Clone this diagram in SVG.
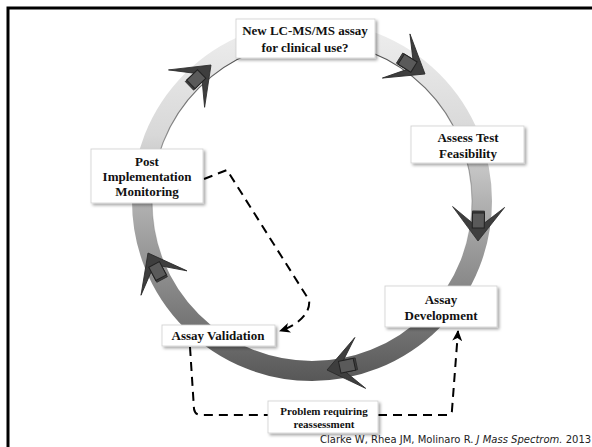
<svg xmlns="http://www.w3.org/2000/svg" xmlns:xlink="http://www.w3.org/1999/xlink" width="592" height="447" viewBox="0 0 592 447">
<style>
.box{fill:#fff;stroke:#cfcfcf;stroke-width:0.8;filter:url(#sh)}
.lbl{font-family:"Liberation Serif","Times New Roman",serif;font-weight:bold;font-size:13px;fill:#111;text-anchor:middle}
.sm{font-size:11px}
.dash{fill:none;stroke:#000;stroke-width:2;stroke-dasharray:9 6}
.cite{font-family:"DejaVu Sans",Verdana,sans-serif;font-size:10px;fill:#222}
</style>
<defs>
<filter id="sh" x="-10%" y="-20%" width="130%" height="150%">
<feDropShadow dx="2" dy="2" stdDeviation="1.5" flood-color="#000" flood-opacity="0.35"/>
</filter>
<linearGradient id="ringGrad" gradientUnits="userSpaceOnUse" x1="0" y1="30" x2="0" y2="380">
<stop offset="0" stop-color="#ededed"/>
<stop offset="0.3" stop-color="#d8d8d8"/>
<stop offset="0.5" stop-color="#b0b0b0"/>
<stop offset="0.75" stop-color="#858585"/>
<stop offset="1" stop-color="#585858"/>
</linearGradient>
<linearGradient id="innerGrad" gradientUnits="userSpaceOnUse" x1="0" y1="40" x2="0" y2="260">
<stop offset="0" stop-color="#333" stop-opacity="0.9"/>
<stop offset="0.6" stop-color="#555" stop-opacity="0.5"/>
<stop offset="1" stop-color="#555" stop-opacity="0"/>
</linearGradient>
<g id="ah">
<polygon points="0,0 -34,-26 -18,-6 -30,-6 -30,6 -18,6 -34,26" fill="#3e3e3e" stroke="#2a2a2a" stroke-width="0.8"/>
<rect x="-28" y="-6" width="15" height="12" fill="#5a5a5a" stroke="#222" stroke-width="1"/>
</g>
<marker id="arr" markerUnits="userSpaceOnUse" markerWidth="12" markerHeight="10" refX="10" refY="5" orient="auto">
<path d="M0,0 L11,5 L0,10 L3,5 z" fill="#000"/>
</marker>
</defs>
<rect x="0" y="0" width="592" height="447" fill="#fff"/>
<rect x="8" y="8" width="600" height="460" fill="none" stroke="#000" stroke-width="3"/>

<g id="ring">
<circle cx="312" cy="201" r="170" fill="none" stroke="url(#ringGrad)" stroke-width="20"/>
<circle cx="312" cy="201" r="160" fill="none" stroke="url(#innerGrad)" stroke-width="1.2"/>
</g>

<g id="arrowheads">
<use xlink:href="#ah" transform="translate(211,65) rotate(-44)"/>
<use xlink:href="#ah" transform="translate(425,74) rotate(32)"/>
<use xlink:href="#ah" transform="translate(478,241) rotate(91)"/>
<use xlink:href="#ah" transform="translate(327,370) rotate(168)"/>
<use xlink:href="#ah" transform="translate(148,253) rotate(-118)"/>
</g>

<g id="connectors">
<path class="dash" d="M204,179 L227,170 L309,300 C311,313 298,325 280,331" marker-end="url(#arr)"/>
<path class="dash" d="M190,347 L194,409 Q195,415 201,415 L268,415"/>
<path class="dash" d="M378,415 L447,415 Q452,415 452,410 L458,331" marker-end="url(#arr)"/>
</g>

<g id="n-new">
<rect class="box" x="236" y="19" width="139" height="39"/>
<text class="lbl" x="305" y="35">New LC-MS/MS assay</text>
<text class="lbl" x="305" y="52">for clinical use?</text>
</g>
<g id="n-feas">
<rect class="box" x="411" y="126" width="113" height="37"/>
<text class="lbl" x="468" y="142">Assess Test</text>
<text class="lbl" x="468" y="158">Feasibility</text>
</g>
<g id="n-dev">
<rect class="box" x="385" y="286" width="112" height="41"/>
<text class="lbl" x="441" y="304">Assay</text>
<text class="lbl" x="441" y="320">Development</text>
</g>
<g id="n-val">
<rect class="box" x="162" y="325" width="113" height="21"/>
<text class="lbl" x="218" y="340">Assay Validation</text>
</g>
<g id="n-post">
<rect class="box" x="91" y="149" width="112" height="54"/>
<text class="lbl" x="147" y="166">Post</text>
<text class="lbl" x="147" y="181">Implementation</text>
<text class="lbl" x="147" y="196">Monitoring</text>
</g>
<g id="n-prob">
<rect class="box" x="268" y="401" width="110" height="32"/>
<text class="lbl sm" x="324" y="415">Problem requiring</text>
<text class="lbl sm" x="324" y="428">reassessment</text>
</g>

<text class="cite" x="320" y="443">Clarke W, Rhea JM, Molinaro R. <tspan font-style="italic">J Mass Spectrom.</tspan> 2013</text>
</svg>
